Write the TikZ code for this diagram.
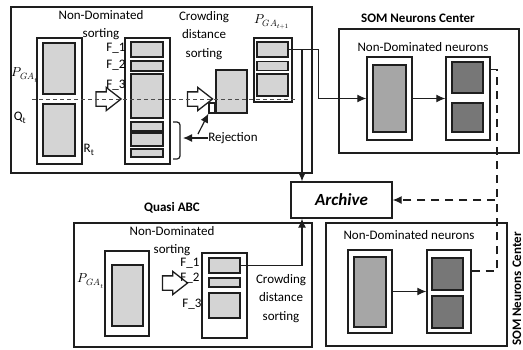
\documentclass[tikz,border=0pt]{standalone}
\usepackage{fontspec}
\usepackage{unicode-math}
\setmainfont{Carlito}
\usepackage{tikz}
\usetikzlibrary{positioning,arrows.meta,calc,shapes.arrows}
\definecolor{lightcell}{HTML}{D4D4D4}
\definecolor{midcell}{HTML}{A6A6A6}
\definecolor{darkcell}{HTML}{777777}
\definecolor{edge}{HTML}{1E1E1E}
\tikzset{
    region/.style = {
        draw=edge,
        shape=rectangle,
        line width=1.3pt,
        inner sep=0pt
    },
    frame/.style = {
        draw=edge,
        fill=white,
        shape=rectangle,
        line width=1.4pt,
        inner sep=0pt
    },
    cell/.style = {
        draw=edge,
        fill=lightcell,
        shape=rectangle,
        line width=1.4pt,
        inner sep=0pt
    },
    hollow/.style = {
        draw=edge,
        fill=white,
        shape=single arrow,
        single arrow head extend=4.5pt,
        single arrow tip angle=76,
        line width=1.3pt,
        inner xsep=2pt,
        inner ysep=6.5pt,
        minimum height=25pt,
        minimum width=22pt
    },
    txt/.style = {
        font=\fontsize{13}{18.5}\selectfont,
        align=center,
        inner sep=0pt
    },
    title/.style = {
        font=\bfseries\fontsize{13}{15}\selectfont,
        inner sep=0pt
    },
    link/.style = {
        line width=1.2pt,
        draw=edge
    },
    >={Latex[length=9pt,width=8pt]},
}
\begin{document}
\begin{tikzpicture}[x=1pt,y=-1pt]
                \useasboundingbox (0,0) rectangle (523,349);

                % NSGA part
                \node[region, minimum width=301, minimum height=166] (topreg) at (161.5,90) {};
                \node[txt] (ndsort) at (101,25) {Non-Dominated\\sorting};
                \node[txt] (cdsort) at (204,35.5) {Crowding\\distance\\sorting};

                \node[frame, minimum width=45, minimum height=126] (popR) at (59.5,101) {};
                \node[cell, minimum width=32, minimum height=51] (popP) at (59,68.5) {};
                \node[cell, minimum width=32, minimum height=52] (popQ) at (59,130) {};
                \node[txt] (lblP) at (25,75) {$P_{GA_t}$};
                \node[txt] (lblQ) at (20,118) {Q\textsubscript{t}};
                \node[txt] (lblR) at (89,150) {R\textsubscript{t}};

                \node[hollow] (ndArrow) at (104,99) {};

                \node[frame, minimum width=45, minimum height=126] (sortF) at (147.5,101) {};
                \node[cell, minimum width=32, minimum height=15] (f1) at (147,49.5) {};
                \node[cell, minimum width=32, minimum height=10] (f2) at (147,66) {};
                \node[cell, minimum width=32, minimum height=44] (f3) at (147,96) {};
                \node[cell, minimum width=32, minimum height=9] (r1) at (147,126.5) {};
                \node[cell, minimum width=32, minimum height=13] (r2) at (147,139.5) {};
                \node[cell, minimum width=32, minimum height=8] (r3) at (147,153) {};
                \node[txt] (lblF1) at (116,48) {F\_1};
                \node[txt] (lblF2) at (116,65) {F\_2};
                \node[txt] (lblF3) at (116,85) {F\_3};

                \path[draw, link, rounded corners=3pt] (173,122) -- (180,122) -- (180,159) -- (173,159);

                \node[hollow] (cdArrow) at (195.5,99) {};
                \node[cell, fill=white, minimum width=6, minimum height=10, line width=1.1pt] (rejB) at (212,108) {};
                \node[cell, minimum width=31, minimum height=43] (crowdB) at (231.5,91.5) {};

                \node[txt] (rej) at (233,138) {Rejection};
                \coordinate (braceTip) at (183,138);
                \coordinate (rejFork) at (198,134);
                \path[draw, link, ->] (rej.west) -- (braceTip);
                \path[draw, link, ->] (rejFork) -- (rejB.south west);

                \node[txt] (lblNext) at (272,22) {$P_{GA_{t+1}}$};
                \node[frame, minimum width=38, minimum height=64] (nextP) at (273,70) {};
                \node[cell, minimum width=31, minimum height=15] (n1) at (272.5,49.5) {};
                \node[cell, minimum width=31, minimum height=9] (n2) at (272.5,66) {};
                \node[cell, minimum width=31, minimum height=22] (n3) at (272.5,85) {};

                \coordinate (cutL) at (32,99);
                \coordinate (cutR) at (296,99);
                \path[draw, dashed, dash pattern=on 4pt off 3pt, line width=1pt, color=black!70] (cutL) -- (cutR);

                % SOM part, top
                \node[title] (somTitle) at (418,18) {SOM Neurons Center};
                \node[region, minimum width=180, minimum height=124] (somTop) at (429,91) {};
                \node[txt] (somText) at (423,47) {Non-Dominated neurons};
                \node[frame, minimum width=45, minimum height=83] (somL) at (389.5,98.5) {};
                \node[cell, fill=midcell, minimum width=33, minimum height=67] (somLc) at (389.5,98.5) {};
                \node[frame, minimum width=44, minimum height=83] (somR) at (468,98.5) {};
                \node[cell, fill=darkcell, minimum width=31, minimum height=31] (somRa) at (467.5,77.5) {};
                \node[cell, fill=darkcell, minimum width=31, minimum height=29] (somRb) at (467.5,117.5) {};
                \path[draw, link, ->] (somL) -- (somR);

                % archive
                \node[region, minimum width=101, minimum height=36, font=\bfseries\itshape\fontsize{17}{20}\selectfont] (archive) at (341.5,200) {Archive};

                % quasi ABC part
                \node[title] (qTitle) at (172,208) {Quasi ABC};
                \node[region, minimum width=238, minimum height=124] (qabc) at (193,285) {};
                \node[txt] (qsort) at (172,241) {Non-Dominated\\sorting};
                \node[frame, minimum width=44, minimum height=85] (qPop) at (127,293.5) {};
                \node[cell, minimum width=31, minimum height=61] (qPopc) at (127.5,295.5) {};
                \node[txt] (lblqP) at (91,281) {$P_{GA_t}$};
                \node[hollow] (qArrow) at (170.5,283) {};
                \node[frame, minimum width=45, minimum height=85] (qSort) at (224.5,295.5) {};
                \node[cell, minimum width=31, minimum height=15] (q1) at (224.5,265.5) {};
                \node[cell, minimum width=31, minimum height=9] (q2) at (224.5,282.5) {};
                \node[cell, minimum width=31, minimum height=25] (q3) at (224.5,305.5) {};
                \node[txt] (lblq1) at (190,263) {F\_1};
                \node[txt] (lblq2) at (190,278) {F\_2};
                \node[txt] (lblq3) at (192,304) {F\_3};
                \node[txt] (qcd) at (281,298.5) {Crowding\\distance\\sorting};

                % SOM part, bottom
                \node[region, minimum width=181, minimum height=123] (somBot) at (416.5,284.5) {};
                \node[txt] (somText2) at (409,235) {Non-Dominated neurons};
                \node[frame, minimum width=44, minimum height=83] (somL2) at (370,291.5) {};
                \node[cell, fill=midcell, minimum width=32, minimum height=70] (somL2c) at (370,292) {};
                \node[frame, minimum width=44, minimum height=83] (somR2) at (449,291.5) {};
                \node[cell, fill=darkcell, minimum width=31, minimum height=32] (somR2a) at (447.5,274) {};
                \node[cell, fill=darkcell, minimum width=31, minimum height=32] (somR2b) at (447.5,312) {};
                \path[draw, link, ->] (somL2) -- (somR2);
                \node[title, rotate=90] (somTitle2) at (517,289) {SOM Neurons Center};

                % links between parts
                \coordinate (split) at (302,49.5);
                \coordinate (dashJoin) at (497,200);
                \path[draw, link, ->] (n1.east) -- ++(30,0) |- (somL.west);
                \path[draw, link, ->] (split) -- (split |- archive.north);
                \path[draw, link, ->] (q1.east) -| (split |- archive.south);
                \path[draw, link, dashed, dash pattern=on 8pt off 6pt] (somR.52) -| (dashJoin);
                \path[draw, link, dashed, dash pattern=on 8pt off 6pt, ->] (somR2.42) -| (dashJoin) -- (archive.east);
            \end{tikzpicture}
\end{document}
